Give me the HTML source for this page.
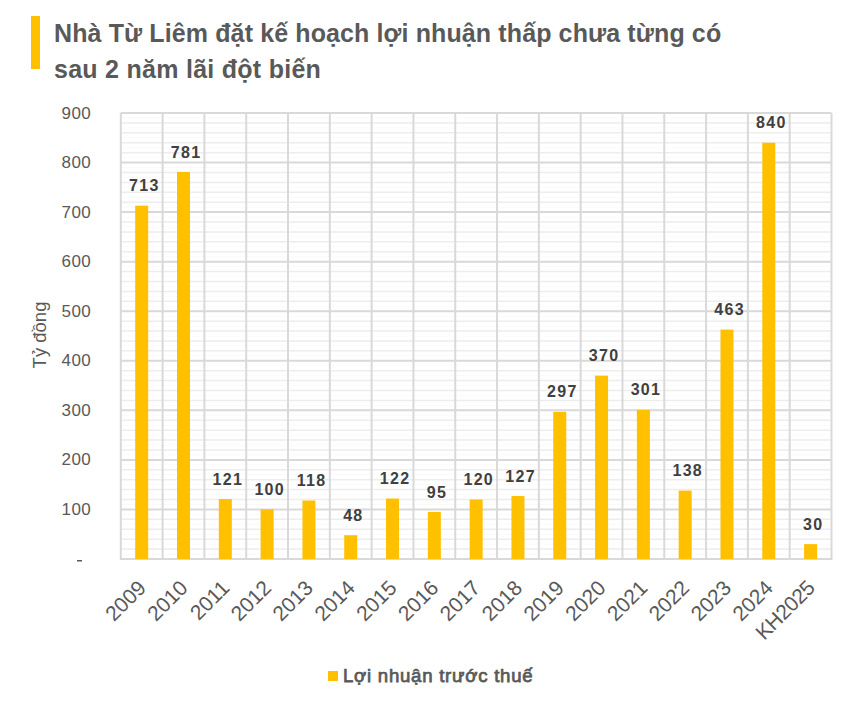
<!DOCTYPE html>
<html><head><meta charset="utf-8"><style>
html,body{margin:0;padding:0;background:#fff;}
.wrap{position:absolute;left:0;top:0;width:855px;height:706px;}
body{width:855px;height:706px;position:relative;overflow:hidden;font-family:"Liberation Sans",sans-serif;}
.bar{position:absolute;left:31px;top:16px;width:9px;height:53px;background:#FFC000;}
.title{position:absolute;left:54px;top:10px;font-weight:bold;font-size:25px;line-height:30px;color:#595959;white-space:nowrap;}
svg{position:absolute;left:0;top:0;}
svg text{font-family:"Liberation Sans",sans-serif;}
</style></head><body><div class="wrap">
<div class="bar"></div>
<div class="title" style="top:18.3px;letter-spacing:0.12px">Nhà Từ Liêm đặt kế hoạch lợi nhuận thấp chưa từng có</div>
<div class="title" style="top:54.3px;letter-spacing:0.27px">sau 2 năm lãi đột biến</div>
<svg width="855" height="706" viewBox="0 0 855 706">
<line x1="120.8" x2="831.5" y1="554.04" y2="554.04" stroke="#fafafa" stroke-width="1"/>
<line x1="120.8" x2="831.5" y1="544.13" y2="544.13" stroke="#fafafa" stroke-width="1"/>
<line x1="120.8" x2="831.5" y1="534.22" y2="534.22" stroke="#fafafa" stroke-width="1"/>
<line x1="120.8" x2="831.5" y1="524.31" y2="524.31" stroke="#fafafa" stroke-width="1"/>
<line x1="120.8" x2="831.5" y1="514.40" y2="514.40" stroke="#fafafa" stroke-width="1"/>
<line x1="120.8" x2="831.5" y1="504.49" y2="504.49" stroke="#fafafa" stroke-width="1"/>
<line x1="120.8" x2="831.5" y1="494.58" y2="494.58" stroke="#fafafa" stroke-width="1"/>
<line x1="120.8" x2="831.5" y1="484.67" y2="484.67" stroke="#fafafa" stroke-width="1"/>
<line x1="120.8" x2="831.5" y1="474.76" y2="474.76" stroke="#fafafa" stroke-width="1"/>
<line x1="120.8" x2="831.5" y1="464.84" y2="464.84" stroke="#fafafa" stroke-width="1"/>
<line x1="120.8" x2="831.5" y1="454.93" y2="454.93" stroke="#fafafa" stroke-width="1"/>
<line x1="120.8" x2="831.5" y1="445.02" y2="445.02" stroke="#fafafa" stroke-width="1"/>
<line x1="120.8" x2="831.5" y1="435.11" y2="435.11" stroke="#fafafa" stroke-width="1"/>
<line x1="120.8" x2="831.5" y1="425.20" y2="425.20" stroke="#fafafa" stroke-width="1"/>
<line x1="120.8" x2="831.5" y1="415.29" y2="415.29" stroke="#fafafa" stroke-width="1"/>
<line x1="120.8" x2="831.5" y1="405.38" y2="405.38" stroke="#fafafa" stroke-width="1"/>
<line x1="120.8" x2="831.5" y1="395.47" y2="395.47" stroke="#fafafa" stroke-width="1"/>
<line x1="120.8" x2="831.5" y1="385.56" y2="385.56" stroke="#fafafa" stroke-width="1"/>
<line x1="120.8" x2="831.5" y1="375.64" y2="375.64" stroke="#fafafa" stroke-width="1"/>
<line x1="120.8" x2="831.5" y1="365.73" y2="365.73" stroke="#fafafa" stroke-width="1"/>
<line x1="120.8" x2="831.5" y1="355.82" y2="355.82" stroke="#fafafa" stroke-width="1"/>
<line x1="120.8" x2="831.5" y1="345.91" y2="345.91" stroke="#fafafa" stroke-width="1"/>
<line x1="120.8" x2="831.5" y1="336.00" y2="336.00" stroke="#fafafa" stroke-width="1"/>
<line x1="120.8" x2="831.5" y1="326.09" y2="326.09" stroke="#fafafa" stroke-width="1"/>
<line x1="120.8" x2="831.5" y1="316.18" y2="316.18" stroke="#fafafa" stroke-width="1"/>
<line x1="120.8" x2="831.5" y1="306.27" y2="306.27" stroke="#fafafa" stroke-width="1"/>
<line x1="120.8" x2="831.5" y1="296.36" y2="296.36" stroke="#fafafa" stroke-width="1"/>
<line x1="120.8" x2="831.5" y1="286.44" y2="286.44" stroke="#fafafa" stroke-width="1"/>
<line x1="120.8" x2="831.5" y1="276.53" y2="276.53" stroke="#fafafa" stroke-width="1"/>
<line x1="120.8" x2="831.5" y1="266.62" y2="266.62" stroke="#fafafa" stroke-width="1"/>
<line x1="120.8" x2="831.5" y1="256.71" y2="256.71" stroke="#fafafa" stroke-width="1"/>
<line x1="120.8" x2="831.5" y1="246.80" y2="246.80" stroke="#fafafa" stroke-width="1"/>
<line x1="120.8" x2="831.5" y1="236.89" y2="236.89" stroke="#fafafa" stroke-width="1"/>
<line x1="120.8" x2="831.5" y1="226.98" y2="226.98" stroke="#fafafa" stroke-width="1"/>
<line x1="120.8" x2="831.5" y1="217.07" y2="217.07" stroke="#fafafa" stroke-width="1"/>
<line x1="120.8" x2="831.5" y1="207.16" y2="207.16" stroke="#fafafa" stroke-width="1"/>
<line x1="120.8" x2="831.5" y1="197.24" y2="197.24" stroke="#fafafa" stroke-width="1"/>
<line x1="120.8" x2="831.5" y1="187.33" y2="187.33" stroke="#fafafa" stroke-width="1"/>
<line x1="120.8" x2="831.5" y1="177.42" y2="177.42" stroke="#fafafa" stroke-width="1"/>
<line x1="120.8" x2="831.5" y1="167.51" y2="167.51" stroke="#fafafa" stroke-width="1"/>
<line x1="120.8" x2="831.5" y1="157.60" y2="157.60" stroke="#fafafa" stroke-width="1"/>
<line x1="120.8" x2="831.5" y1="147.69" y2="147.69" stroke="#fafafa" stroke-width="1"/>
<line x1="120.8" x2="831.5" y1="137.78" y2="137.78" stroke="#fafafa" stroke-width="1"/>
<line x1="120.8" x2="831.5" y1="127.87" y2="127.87" stroke="#fafafa" stroke-width="1"/>
<line x1="120.8" x2="831.5" y1="117.96" y2="117.96" stroke="#fafafa" stroke-width="1"/>
<line x1="120.8" x2="831.5" y1="549.09" y2="549.09" stroke="#ededed" stroke-width="1.5"/>
<line x1="120.8" x2="831.5" y1="539.18" y2="539.18" stroke="#ededed" stroke-width="1.5"/>
<line x1="120.8" x2="831.5" y1="529.27" y2="529.27" stroke="#ededed" stroke-width="1.5"/>
<line x1="120.8" x2="831.5" y1="519.36" y2="519.36" stroke="#ededed" stroke-width="1.5"/>
<line x1="120.8" x2="831.5" y1="499.53" y2="499.53" stroke="#ededed" stroke-width="1.5"/>
<line x1="120.8" x2="831.5" y1="489.62" y2="489.62" stroke="#ededed" stroke-width="1.5"/>
<line x1="120.8" x2="831.5" y1="479.71" y2="479.71" stroke="#ededed" stroke-width="1.5"/>
<line x1="120.8" x2="831.5" y1="469.80" y2="469.80" stroke="#ededed" stroke-width="1.5"/>
<line x1="120.8" x2="831.5" y1="449.98" y2="449.98" stroke="#ededed" stroke-width="1.5"/>
<line x1="120.8" x2="831.5" y1="440.07" y2="440.07" stroke="#ededed" stroke-width="1.5"/>
<line x1="120.8" x2="831.5" y1="430.16" y2="430.16" stroke="#ededed" stroke-width="1.5"/>
<line x1="120.8" x2="831.5" y1="420.24" y2="420.24" stroke="#ededed" stroke-width="1.5"/>
<line x1="120.8" x2="831.5" y1="400.42" y2="400.42" stroke="#ededed" stroke-width="1.5"/>
<line x1="120.8" x2="831.5" y1="390.51" y2="390.51" stroke="#ededed" stroke-width="1.5"/>
<line x1="120.8" x2="831.5" y1="380.60" y2="380.60" stroke="#ededed" stroke-width="1.5"/>
<line x1="120.8" x2="831.5" y1="370.69" y2="370.69" stroke="#ededed" stroke-width="1.5"/>
<line x1="120.8" x2="831.5" y1="350.87" y2="350.87" stroke="#ededed" stroke-width="1.5"/>
<line x1="120.8" x2="831.5" y1="340.96" y2="340.96" stroke="#ededed" stroke-width="1.5"/>
<line x1="120.8" x2="831.5" y1="331.04" y2="331.04" stroke="#ededed" stroke-width="1.5"/>
<line x1="120.8" x2="831.5" y1="321.13" y2="321.13" stroke="#ededed" stroke-width="1.5"/>
<line x1="120.8" x2="831.5" y1="301.31" y2="301.31" stroke="#ededed" stroke-width="1.5"/>
<line x1="120.8" x2="831.5" y1="291.40" y2="291.40" stroke="#ededed" stroke-width="1.5"/>
<line x1="120.8" x2="831.5" y1="281.49" y2="281.49" stroke="#ededed" stroke-width="1.5"/>
<line x1="120.8" x2="831.5" y1="271.58" y2="271.58" stroke="#ededed" stroke-width="1.5"/>
<line x1="120.8" x2="831.5" y1="251.76" y2="251.76" stroke="#ededed" stroke-width="1.5"/>
<line x1="120.8" x2="831.5" y1="241.84" y2="241.84" stroke="#ededed" stroke-width="1.5"/>
<line x1="120.8" x2="831.5" y1="231.93" y2="231.93" stroke="#ededed" stroke-width="1.5"/>
<line x1="120.8" x2="831.5" y1="222.02" y2="222.02" stroke="#ededed" stroke-width="1.5"/>
<line x1="120.8" x2="831.5" y1="202.20" y2="202.20" stroke="#ededed" stroke-width="1.5"/>
<line x1="120.8" x2="831.5" y1="192.29" y2="192.29" stroke="#ededed" stroke-width="1.5"/>
<line x1="120.8" x2="831.5" y1="182.38" y2="182.38" stroke="#ededed" stroke-width="1.5"/>
<line x1="120.8" x2="831.5" y1="172.47" y2="172.47" stroke="#ededed" stroke-width="1.5"/>
<line x1="120.8" x2="831.5" y1="152.64" y2="152.64" stroke="#ededed" stroke-width="1.5"/>
<line x1="120.8" x2="831.5" y1="142.73" y2="142.73" stroke="#ededed" stroke-width="1.5"/>
<line x1="120.8" x2="831.5" y1="132.82" y2="132.82" stroke="#ededed" stroke-width="1.5"/>
<line x1="120.8" x2="831.5" y1="122.91" y2="122.91" stroke="#ededed" stroke-width="1.5"/>
<line x1="120.8" x2="831.5" y1="509.44" y2="509.44" stroke="#d9d9d9" stroke-width="2"/>
<line x1="120.8" x2="831.5" y1="459.89" y2="459.89" stroke="#d9d9d9" stroke-width="2"/>
<line x1="120.8" x2="831.5" y1="410.33" y2="410.33" stroke="#d9d9d9" stroke-width="2"/>
<line x1="120.8" x2="831.5" y1="360.78" y2="360.78" stroke="#d9d9d9" stroke-width="2"/>
<line x1="120.8" x2="831.5" y1="311.22" y2="311.22" stroke="#d9d9d9" stroke-width="2"/>
<line x1="120.8" x2="831.5" y1="261.67" y2="261.67" stroke="#d9d9d9" stroke-width="2"/>
<line x1="120.8" x2="831.5" y1="212.11" y2="212.11" stroke="#d9d9d9" stroke-width="2"/>
<line x1="120.8" x2="831.5" y1="162.56" y2="162.56" stroke="#d9d9d9" stroke-width="2"/>
<line x1="120.8" x2="831.5" y1="113.00" y2="113.00" stroke="#d9d9d9" stroke-width="2"/>
<line x1="120.80" x2="120.80" y1="113.0" y2="559.0" stroke="#d9d9d9" stroke-width="2"/>
<line x1="162.61" x2="162.61" y1="113.0" y2="559.0" stroke="#d9d9d9" stroke-width="2"/>
<line x1="204.41" x2="204.41" y1="113.0" y2="559.0" stroke="#d9d9d9" stroke-width="2"/>
<line x1="246.22" x2="246.22" y1="113.0" y2="559.0" stroke="#d9d9d9" stroke-width="2"/>
<line x1="288.02" x2="288.02" y1="113.0" y2="559.0" stroke="#d9d9d9" stroke-width="2"/>
<line x1="329.83" x2="329.83" y1="113.0" y2="559.0" stroke="#d9d9d9" stroke-width="2"/>
<line x1="371.64" x2="371.64" y1="113.0" y2="559.0" stroke="#d9d9d9" stroke-width="2"/>
<line x1="413.44" x2="413.44" y1="113.0" y2="559.0" stroke="#d9d9d9" stroke-width="2"/>
<line x1="455.25" x2="455.25" y1="113.0" y2="559.0" stroke="#d9d9d9" stroke-width="2"/>
<line x1="497.05" x2="497.05" y1="113.0" y2="559.0" stroke="#d9d9d9" stroke-width="2"/>
<line x1="538.86" x2="538.86" y1="113.0" y2="559.0" stroke="#d9d9d9" stroke-width="2"/>
<line x1="580.66" x2="580.66" y1="113.0" y2="559.0" stroke="#d9d9d9" stroke-width="2"/>
<line x1="622.47" x2="622.47" y1="113.0" y2="559.0" stroke="#d9d9d9" stroke-width="2"/>
<line x1="664.28" x2="664.28" y1="113.0" y2="559.0" stroke="#d9d9d9" stroke-width="2"/>
<line x1="706.08" x2="706.08" y1="113.0" y2="559.0" stroke="#d9d9d9" stroke-width="2"/>
<line x1="747.89" x2="747.89" y1="113.0" y2="559.0" stroke="#d9d9d9" stroke-width="2"/>
<line x1="789.69" x2="789.69" y1="113.0" y2="559.0" stroke="#d9d9d9" stroke-width="2"/>
<line x1="831.50" x2="831.50" y1="113.0" y2="559.0" stroke="#d9d9d9" stroke-width="2"/>
<line x1="119.8" x2="832.5" y1="559.0" y2="559.0" stroke="#d9d9d9" stroke-width="2"/>
<rect x="135.20" y="205.67" width="13.0" height="353.33" fill="#FFC000"/>
<text x="144.30" y="191.27" text-anchor="middle" letter-spacing="1.3" font-weight="bold" font-size="16" fill="#404040">713</text>
<rect x="177.01" y="171.97" width="13.0" height="387.03" fill="#FFC000"/>
<text x="186.11" y="157.57" text-anchor="middle" letter-spacing="1.3" font-weight="bold" font-size="16" fill="#404040">781</text>
<rect x="218.81" y="499.04" width="13.0" height="59.96" fill="#FFC000"/>
<text x="227.91" y="484.64" text-anchor="middle" letter-spacing="1.3" font-weight="bold" font-size="16" fill="#404040">121</text>
<rect x="260.62" y="509.44" width="13.0" height="49.56" fill="#FFC000"/>
<text x="269.72" y="495.04" text-anchor="middle" letter-spacing="1.3" font-weight="bold" font-size="16" fill="#404040">100</text>
<rect x="302.43" y="500.52" width="13.0" height="58.48" fill="#FFC000"/>
<text x="311.53" y="486.12" text-anchor="middle" letter-spacing="1.3" font-weight="bold" font-size="16" fill="#404040">118</text>
<rect x="344.23" y="535.21" width="13.0" height="23.79" fill="#FFC000"/>
<text x="353.33" y="520.81" text-anchor="middle" letter-spacing="1.3" font-weight="bold" font-size="16" fill="#404040">48</text>
<rect x="386.04" y="498.54" width="13.0" height="60.46" fill="#FFC000"/>
<text x="395.14" y="484.14" text-anchor="middle" letter-spacing="1.3" font-weight="bold" font-size="16" fill="#404040">122</text>
<rect x="427.84" y="511.92" width="13.0" height="47.08" fill="#FFC000"/>
<text x="436.94" y="497.52" text-anchor="middle" letter-spacing="1.3" font-weight="bold" font-size="16" fill="#404040">95</text>
<rect x="469.65" y="499.53" width="13.0" height="59.47" fill="#FFC000"/>
<text x="478.75" y="485.13" text-anchor="middle" letter-spacing="1.3" font-weight="bold" font-size="16" fill="#404040">120</text>
<rect x="511.46" y="496.06" width="13.0" height="62.94" fill="#FFC000"/>
<text x="520.56" y="481.66" text-anchor="middle" letter-spacing="1.3" font-weight="bold" font-size="16" fill="#404040">127</text>
<rect x="553.26" y="411.82" width="13.0" height="147.18" fill="#FFC000"/>
<text x="562.36" y="397.42" text-anchor="middle" letter-spacing="1.3" font-weight="bold" font-size="16" fill="#404040">297</text>
<rect x="595.07" y="375.64" width="13.0" height="183.36" fill="#FFC000"/>
<text x="604.17" y="361.24" text-anchor="middle" letter-spacing="1.3" font-weight="bold" font-size="16" fill="#404040">370</text>
<rect x="636.87" y="409.84" width="13.0" height="149.16" fill="#FFC000"/>
<text x="645.97" y="395.44" text-anchor="middle" letter-spacing="1.3" font-weight="bold" font-size="16" fill="#404040">301</text>
<rect x="678.68" y="490.61" width="13.0" height="68.39" fill="#FFC000"/>
<text x="687.78" y="476.21" text-anchor="middle" letter-spacing="1.3" font-weight="bold" font-size="16" fill="#404040">138</text>
<rect x="720.49" y="329.56" width="13.0" height="229.44" fill="#FFC000"/>
<text x="729.59" y="315.16" text-anchor="middle" letter-spacing="1.3" font-weight="bold" font-size="16" fill="#404040">463</text>
<rect x="762.29" y="142.73" width="13.0" height="416.27" fill="#FFC000"/>
<text x="771.39" y="128.33" text-anchor="middle" letter-spacing="1.3" font-weight="bold" font-size="16" fill="#404040">840</text>
<rect x="804.10" y="544.13" width="13.0" height="14.87" fill="#FFC000"/>
<text x="813.20" y="529.73" text-anchor="middle" letter-spacing="1.3" font-weight="bold" font-size="16" fill="#404040">30</text>
<text x="91.2" y="515.04" text-anchor="end" letter-spacing="0.4" font-size="17" fill="#595959">100</text>
<text x="91.2" y="465.49" text-anchor="end" letter-spacing="0.4" font-size="17" fill="#595959">200</text>
<text x="91.2" y="415.93" text-anchor="end" letter-spacing="0.4" font-size="17" fill="#595959">300</text>
<text x="91.2" y="366.38" text-anchor="end" letter-spacing="0.4" font-size="17" fill="#595959">400</text>
<text x="91.2" y="316.82" text-anchor="end" letter-spacing="0.4" font-size="17" fill="#595959">500</text>
<text x="91.2" y="267.27" text-anchor="end" letter-spacing="0.4" font-size="17" fill="#595959">600</text>
<text x="91.2" y="217.71" text-anchor="end" letter-spacing="0.4" font-size="17" fill="#595959">700</text>
<text x="91.2" y="168.16" text-anchor="end" letter-spacing="0.4" font-size="17" fill="#595959">800</text>
<text x="91.2" y="118.60" text-anchor="end" letter-spacing="0.4" font-size="17" fill="#595959">900</text>
<rect x="77" y="560" width="5" height="1.5" fill="#595959"/>
<text transform="translate(136.40,578.50) rotate(-45)" x="0" y="0" text-anchor="end" dominant-baseline="hanging" font-size="21" fill="#595959">2009</text>
<text transform="translate(178.21,578.50) rotate(-45)" x="0" y="0" text-anchor="end" dominant-baseline="hanging" font-size="21" fill="#595959">2010</text>
<text transform="translate(220.01,578.50) rotate(-45)" x="0" y="0" text-anchor="end" dominant-baseline="hanging" font-size="21" fill="#595959">2011</text>
<text transform="translate(261.82,578.50) rotate(-45)" x="0" y="0" text-anchor="end" dominant-baseline="hanging" font-size="21" fill="#595959">2012</text>
<text transform="translate(303.63,578.50) rotate(-45)" x="0" y="0" text-anchor="end" dominant-baseline="hanging" font-size="21" fill="#595959">2013</text>
<text transform="translate(345.43,578.50) rotate(-45)" x="0" y="0" text-anchor="end" dominant-baseline="hanging" font-size="21" fill="#595959">2014</text>
<text transform="translate(387.24,578.50) rotate(-45)" x="0" y="0" text-anchor="end" dominant-baseline="hanging" font-size="21" fill="#595959">2015</text>
<text transform="translate(429.04,578.50) rotate(-45)" x="0" y="0" text-anchor="end" dominant-baseline="hanging" font-size="21" fill="#595959">2016</text>
<text transform="translate(470.85,578.50) rotate(-45)" x="0" y="0" text-anchor="end" dominant-baseline="hanging" font-size="21" fill="#595959">2017</text>
<text transform="translate(512.66,578.50) rotate(-45)" x="0" y="0" text-anchor="end" dominant-baseline="hanging" font-size="21" fill="#595959">2018</text>
<text transform="translate(554.46,578.50) rotate(-45)" x="0" y="0" text-anchor="end" dominant-baseline="hanging" font-size="21" fill="#595959">2019</text>
<text transform="translate(596.27,578.50) rotate(-45)" x="0" y="0" text-anchor="end" dominant-baseline="hanging" font-size="21" fill="#595959">2020</text>
<text transform="translate(638.07,578.50) rotate(-45)" x="0" y="0" text-anchor="end" dominant-baseline="hanging" font-size="21" fill="#595959">2021</text>
<text transform="translate(679.88,578.50) rotate(-45)" x="0" y="0" text-anchor="end" dominant-baseline="hanging" font-size="21" fill="#595959">2022</text>
<text transform="translate(721.69,578.50) rotate(-45)" x="0" y="0" text-anchor="end" dominant-baseline="hanging" font-size="21" fill="#595959">2023</text>
<text transform="translate(763.49,578.50) rotate(-45)" x="0" y="0" text-anchor="end" dominant-baseline="hanging" font-size="21" fill="#595959">2024</text>
<text transform="translate(805.30,578.50) rotate(-45)" x="0" y="0" text-anchor="end" dominant-baseline="hanging" letter-spacing="-0.45" font-size="21" fill="#595959">KH2025</text>
<text transform="translate(46.2,335) rotate(-90)" text-anchor="middle" font-size="18.5" fill="#595959">Tỷ đồng</text>
<rect x="328" y="671" width="10" height="10" fill="#FFC000"/>
<text x="343" y="681.6" font-size="18.6" letter-spacing="0.75" stroke="#595959" stroke-width="0.75" fill="#595959">Lợi nhuận trước thuế</text>
</svg>
</div></body></html>
